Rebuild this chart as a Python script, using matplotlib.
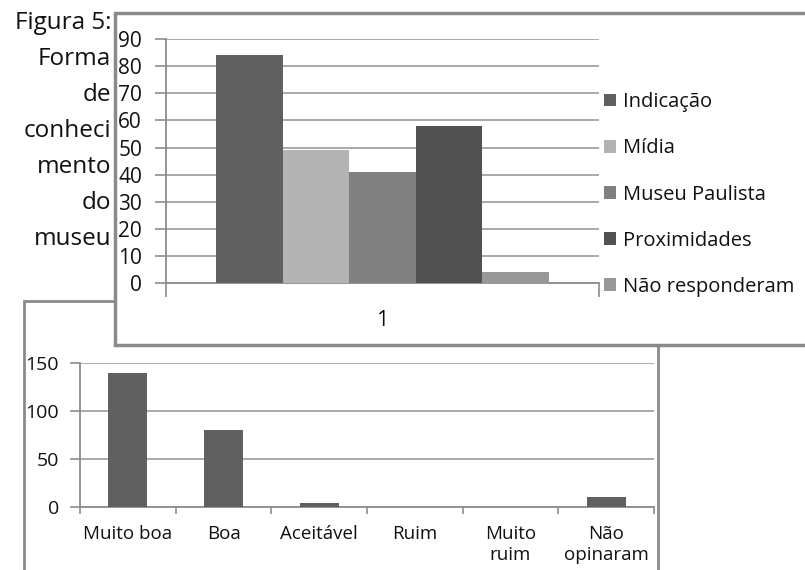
import matplotlib.pyplot as plt
from matplotlib.patches import Rectangle

plt.rcParams['font.family'] = ['Open Sans', 'DejaVu Sans']
plt.rcParams['text.color'] = '#111111'
plt.rcParams['xtick.labelcolor'] = '#111111'
plt.rcParams['ytick.labelcolor'] = '#111111'

# Figura 5: forma de conhecimento do museu
fontes = ['Indicação', 'Mídia', 'Museu Paulista', 'Proximidades', 'Não responderam']
fontes_valores = [84, 49, 41, 58, 4]
fontes_cores = ['#606060', '#b3b3b3', '#808080', '#515151', '#989898']

# avaliação da visita
avaliacoes = ['Muito boa', 'Boa', 'Aceitável', 'Ruim', 'Muito\nruim', 'Não\nopinaram']
avaliacoes_valores = [140, 80, 4, 0, 0, 10]

legenda_texto = ['Figura 5:', 'Forma', 'de', 'conheci', 'mento', 'do', 'museu']

W, H = 805, 570
GRID = '#a3a3a3'
AXIS = '#8c8c8c'
FRAME = '#8a8a8a'


def fx(px):
    return px / W


def fy(py):
    return 1 - py / H


fig = plt.figure(figsize=(W / 100, H / 100), dpi=100)

# texto da legenda da figura, alinhado à direita
for i, linha in enumerate(legenda_texto):
    fig.text(fx(111), fy(23 + i * 36), linha, ha='right', va='center',
             fontsize=17.5)

# moldura do gráfico de avaliação (fica por baixo)
fig.add_artist(Rectangle((fx(24), fy(640)), fx(658 - 24), fy(301) - fy(640),
                         transform=fig.transFigure, facecolor='white',
                         edgecolor=FRAME, linewidth=2, zorder=0))

ax2 = fig.add_axes([fx(80), fy(506.5), fx(654 - 80), fy(363.3) - fy(506.5)], zorder=1)
ax2.set_facecolor('none')
ax2.bar(range(len(avaliacoes)), avaliacoes_valores, width=0.41, color='#606060', zorder=3)
ax2.set_xlim(-0.5, len(avaliacoes) - 0.5)
ax2.set_ylim(0, 150)
ax2.set_yticks([0, 50, 100, 150])
ax2.set_xticks([i - 0.5 for i in range(len(avaliacoes) + 1)])
ax2.set_xticklabels([])
ax2.set_xticks(range(len(avaliacoes)), minor=True)
ax2.set_xticklabels(avaliacoes, minor=True, fontsize=13.5, linespacing=1.25, va='top')
ax2.tick_params(axis='x', which='major', length=5, color=AXIS, width=1.2)
ax2.tick_params(axis='x', which='minor', length=0, pad=13)
ax2.tick_params(axis='y', length=7, color=AXIS, width=1.2, labelsize=14, pad=8)
ax2.grid(axis='y', color=GRID, linewidth=1.3, zorder=0)
ax2.set_axisbelow(True)
for s in ['top', 'right']:
    ax2.spines[s].set_visible(False)
for s in ['left', 'bottom']:
    ax2.spines[s].set_color(AXIS)
    ax2.spines[s].set_linewidth(1.3)

# moldura do gráfico de fontes (sobreposta)
fig.add_artist(Rectangle((fx(115), fy(345)), fx(900 - 115), fy(13) - fy(345),
                         transform=fig.transFigure, facecolor='white',
                         edgecolor=FRAME, linewidth=2.5, zorder=2))

ax1 = fig.add_axes([fx(165.7), fy(283.3), fx(599 - 165.7), fy(39) - fy(283.3)], zorder=3)
ax1.set_facecolor('none')
grupo = 0.767
largura = grupo / len(fontes)
for i, (nome, v, c) in enumerate(zip(fontes, fontes_valores, fontes_cores)):
    ax1.bar(0.5 - grupo / 2 + largura * (i + 0.5), v, width=largura, color=c,
            label=nome, zorder=3)
ax1.set_xlim(0, 1)
ax1.set_ylim(0, 90)
ax1.set_yticks(range(0, 91, 10))
ax1.set_xticks([0, 1])
ax1.set_xticklabels([])
ax1.set_xticks([0.5], minor=True)
ax1.set_xticklabels(['1'], minor=True, fontsize=15.5)
ax1.tick_params(axis='x', which='major', length=10, color=AXIS, width=1.2)
ax1.tick_params(axis='x', which='minor', length=0, pad=19)
ax1.tick_params(axis='y', length=8, color=AXIS, width=1.2, labelsize=15, pad=9)
ax1.grid(axis='y', color=GRID, linewidth=1.3, zorder=0)
ax1.set_axisbelow(True)
for s in ['top', 'right']:
    ax1.spines[s].set_visible(False)
for s in ['left', 'bottom']:
    ax1.spines[s].set_color(AXIS)
    ax1.spines[s].set_linewidth(1.3)

ax1.legend(loc='center left', bbox_to_anchor=(fx(604), fy(194.5)),
           bbox_transform=fig.transFigure, frameon=False, fontsize=14.5,
           handlelength=0.6, handleheight=0.6, handletextpad=0.35,
           labelspacing=1.3, borderpad=0, borderaxespad=0)

fig.savefig('out.png', dpi=100)
